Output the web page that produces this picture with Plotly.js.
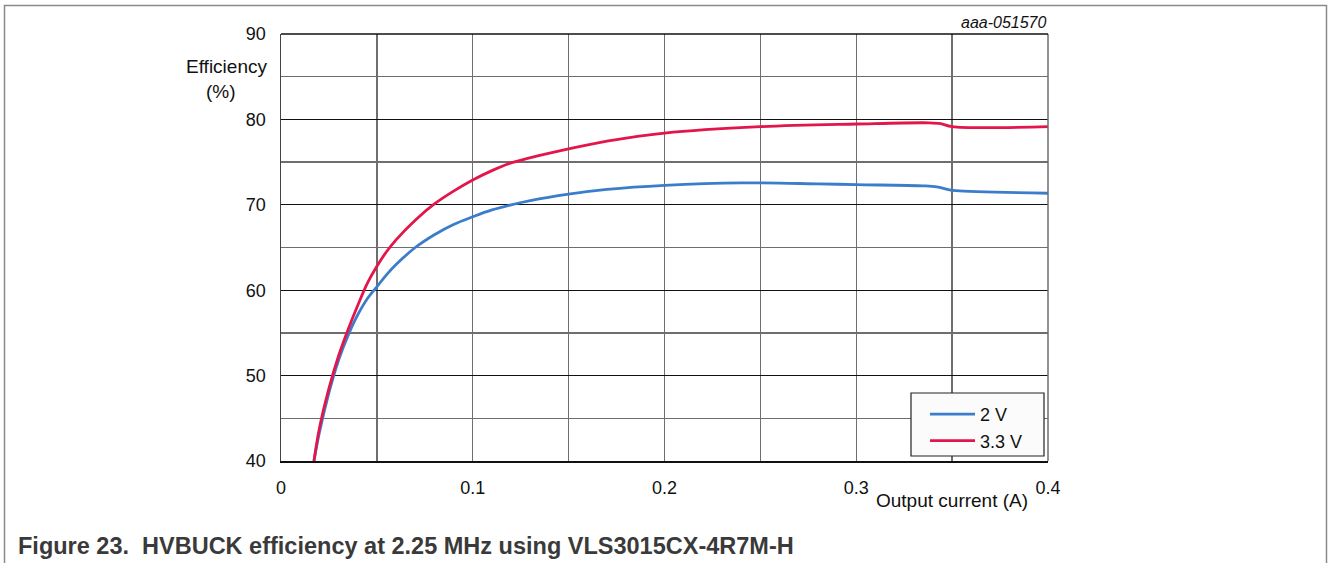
<!DOCTYPE html>
<html>
<head>
<meta charset="utf-8">
<script src="https://cdn.plot.ly/plotly-3.0.1.min.js"></script>
<style>
html,body{margin:0;padding:0;background:#fff;}
#chart{width:1328px;height:563px;}
</style>
</head>
<body>
<div id="chart"></div>
<script>
// Data
const current2V = [0.0172, 0.02, 0.025, 0.03, 0.035, 0.04, 0.045, 0.05, 0.055, 0.06, 0.07, 0.08, 0.09, 0.1, 0.11, 0.12, 0.13, 0.15, 0.17, 0.2, 0.24, 0.28, 0.3, 0.335, 0.342, 0.348, 0.352, 0.4];
const eff2V     = [40, 43.3, 48, 51.8, 54.7, 57.1, 59.0, 60.4, 61.8, 63.0, 65.0, 66.5, 67.7, 68.6, 69.4, 70.0, 70.5, 71.25, 71.8, 72.28, 72.57, 72.45, 72.36, 72.22, 72.1, 71.78, 71.65, 71.35];
const current33V = [0.0172, 0.02, 0.025, 0.03, 0.035, 0.04, 0.045, 0.05, 0.055, 0.06, 0.07, 0.08, 0.09, 0.1, 0.11, 0.12, 0.135, 0.15, 0.17, 0.2, 0.25, 0.3, 0.338, 0.344, 0.35, 0.4];
const eff33V     = [40, 43.8, 48.5, 52.3, 55.4, 58.2, 60.8, 62.8, 64.5, 65.9, 68.2, 70.1, 71.6, 72.9, 74.0, 74.9, 75.8, 76.55, 77.45, 78.4, 79.15, 79.46, 79.6, 79.5, 79.15, 79.15];
const seriesNames = ["2 V", "3.3 V"];
const xTickVals = [0, 0.1, 0.2, 0.3, 0.4];
const xTickText = ["0", "0.1", "0.2", "0.3", "0.4"];
const yTickVals = [40, 50, 60, 70, 80, 90];

const FONT = "Liberation Sans, Arial, sans-serif";
const W = 1328, H = 563;
const L = 281, R = 1048, T = 34, B = 461;
const px = x => (x - L) / (R - L);
const py = y => (B - y) / (B - T);

const traces = [
  {x: current2V, y: eff2V, name: seriesNames[0], mode: "lines",
   line: {color: "#3b7dca", width: 2.8, shape: "spline", smoothing: 1}},
  {x: current33V, y: eff33V, name: seriesNames[1], mode: "lines",
   line: {color: "#e2164b", width: 2.8, shape: "spline", smoothing: 1}}
];

const layout = {
  width: W, height: H,
  margin: {l: L, r: W - R, t: T, b: H - B, pad: 0},
  paper_bgcolor: "#fff", plot_bgcolor: "#fff",
  font: {family: FONT, size: 18, color: "#111"},
  showlegend: true,
  legend: {x: px(925), y: py(396), xanchor: "left", yanchor: "top",
           bgcolor: "rgba(0,0,0,0)", borderwidth: 0,
           font: {family: FONT, size: 18, color: "#111"}, itemwidth: 45},
  xaxis: {range: [0, 0.4], tickvals: xTickVals, ticktext: xTickText,
          ticks: "outside", ticklen: 10, tickcolor: "rgba(0,0,0,0)",
          showgrid: true, gridcolor: "#6e6e6e", gridwidth: 1.3,
          minor: {dtick: 0.05, showgrid: true, gridcolor: "#6e6e6e", gridwidth: 1.3},
          showline: true, linecolor: "#111", linewidth: 1.5, zeroline: false,
          tickfont: {family: FONT, size: 18, color: "#111"}, fixedrange: true},
  yaxis: {range: [40, 90], tickvals: yTickVals,
          ticks: "outside", ticklen: 10, tickcolor: "rgba(0,0,0,0)",
          showgrid: true, gridcolor: "#111", gridwidth: 1.3,
          minor: {dtick: 5, showgrid: true, gridcolor: "#6e6e6e", gridwidth: 1.3},
          showline: true, linecolor: "#444", linewidth: 1.5, zeroline: false,
          tickfont: {family: FONT, size: 18, color: "#111"}, fixedrange: true},
  shapes: [
    {type: "line", xref: "paper", yref: "paper", x0: px(1048), x1: px(1048), y0: 0, y1: 1,
     line: {color: "#6e6e6e", width: 1.5}},
    {type: "line", xref: "paper", yref: "paper", x0: 0, x1: 1, y0: 1, y1: 1,
     line: {color: "#111", width: 1.3}},
    {type: "rect", xref: "paper", yref: "paper", x0: px(911), x1: px(1044), y0: py(393), y1: py(456),
     line: {color: "#222", width: 1.2}, fillcolor: "#fbfbfb", layer: "above"},
    {type: "rect", xref: "paper", yref: "paper", x0: px(4.5), x1: px(1326.5), y0: py(5.5), y1: py(580),
     line: {color: "#8a8a8a", width: 1.5}, fillcolor: "rgba(0,0,0,0)", layer: "below"}
  ],
  annotations: [
    {text: "Efficiency", xref: "paper", yref: "paper", x: px(226), y: py(67),
     xanchor: "center", yanchor: "middle", showarrow: false,
     font: {family: FONT, size: 19, color: "#111"}},
    {text: "(%)", xref: "paper", yref: "paper", x: px(221), y: py(91),
     xanchor: "center", yanchor: "middle", showarrow: false,
     font: {family: FONT, size: 19, color: "#111"}},
    {text: "Output current (A)", xref: "paper", yref: "paper", x: px(1030), y: py(500),
     xanchor: "right", yanchor: "middle", showarrow: false,
     font: {family: FONT, size: 19, color: "#111"}},
    {text: "<i>aaa-051570</i>", xref: "paper", yref: "paper", x: px(1049), y: py(23),
     xanchor: "right", yanchor: "middle", showarrow: false,
     font: {family: FONT, size: 16, color: "#111"}},
    {text: "<b>Figure 23.\u00a0 HVBUCK efficiency at 2.25 MHz using VLS3015CX-4R7M-H</b>",
     xref: "paper", yref: "paper", x: px(16), y: py(546),
     xanchor: "left", yanchor: "middle", showarrow: false,
     font: {family: FONT, size: 23.5, color: "#3a3a3a"}}
  ]
};

Plotly.newPlot("chart", traces, layout, {displayModeBar: false, staticPlot: true});
</script>
</body>
</html>
